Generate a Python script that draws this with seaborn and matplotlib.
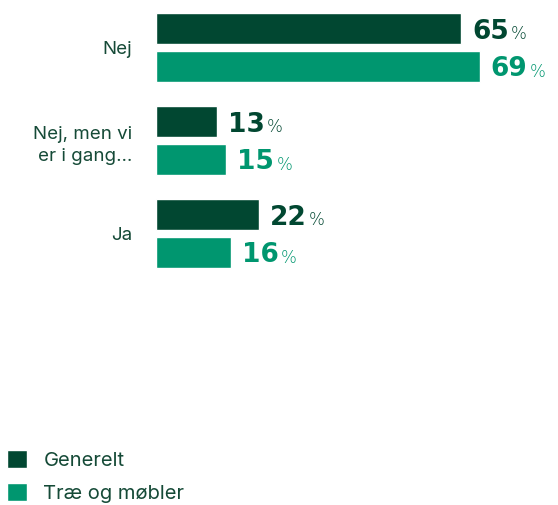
import matplotlib
matplotlib.use("Agg")
import matplotlib.pyplot as plt
import seaborn as sns
import pandas as pd

categories = ["Nej", "Nej, men vi\ner i gang…", "Ja"]
series_names = ["Generelt", "Træ og møbler"]
generelt = [65, 13, 22]
trae = [69, 15, 16]

DARK = "#014731"
LIGHT = "#00966F"
TEXT = "#154a37"

rows = []
for c, g, t in zip(categories, generelt, trae):
    rows.append({"cat": c, "serie": series_names[0], "val": g})
    rows.append({"cat": c, "serie": series_names[1], "val": t})
df = pd.DataFrame(rows)

sns.set_style("white")
plt.rcParams["font.family"] = ["Inter", "DejaVu Sans"]

fig = plt.figure(figsize=(5.58, 5.05), dpi=100)
ax = fig.add_axes([156 / 558, 1 - 280 / 505, 398.6 / 558, 279 / 505])

sns.barplot(data=df, y="cat", x="val", hue="serie", order=categories,
            hue_order=series_names, palette=[DARK, LIGHT], orient="h",
            width=0.817, gap=0.192, saturation=1, ax=ax, legend=True)

ax.set_xlim(0, 85)
ax.set_ylim(2.5, -0.5)
for s in ax.spines.values():
    s.set_visible(False)
ax.set_xticks([])
ax.set_xlabel("")
ax.set_ylabel("")
ax.tick_params(axis="y", length=0, pad=17)
for lbl in ax.get_yticklabels():
    lbl.set_fontsize(13.5)
    lbl.set_color(TEXT)
    lbl.set_horizontalalignment("right")
    lbl.set_multialignment("right")
    lbl.set_linespacing(1.45)

for container, color in zip(ax.containers, [DARK, LIGHT]):
    for bar in container:
        w = bar.get_width()
        yc = bar.get_y() + bar.get_height() / 2
        t = ax.annotate(f"{w:.0f}", xy=(w, yc), xytext=(8, 0),
                        textcoords="offset points", va="center_baseline",
                        ha="left", fontsize=19, fontweight="bold",
                        color=color, family="DejaVu Sans")
        ax.annotate("%", xy=(1, 0), xycoords=t, xytext=(1.5, 1.0),
                    textcoords="offset points", va="bottom", ha="left",
                    fontsize=12, color=color, family="DejaVu Sans",
                    fontweight="light")

sns.move_legend(ax, "lower left", bbox_to_anchor=(3 / 558, -2 / 505),
                bbox_transform=fig.transFigure, frameon=False, title=None,
                fontsize=14.5, handlelength=1.0, handleheight=1.0,
                handletextpad=0.8, labelspacing=0.65, borderaxespad=0.0,
                borderpad=0.2)
leg = ax.get_legend()
for txt in leg.get_texts():
    txt.set_color(TEXT)

fig.savefig("out.png", dpi=100)
